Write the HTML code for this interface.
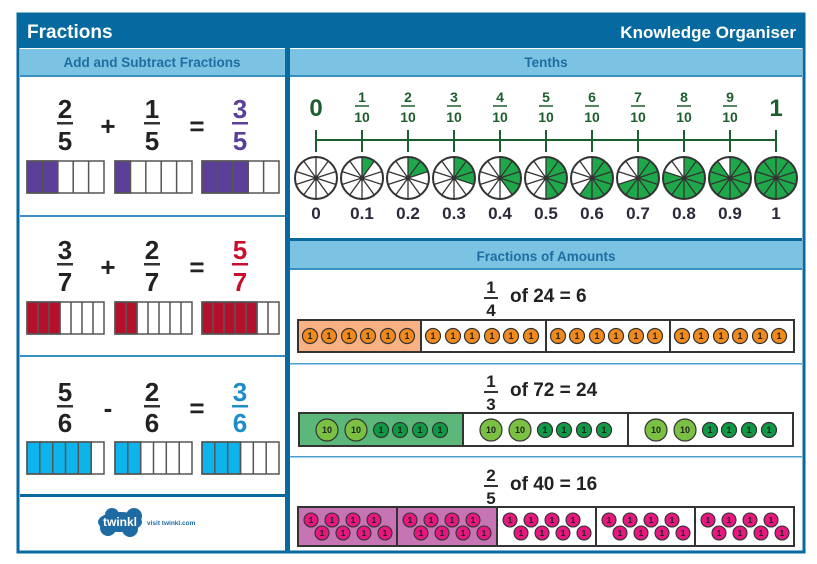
<!DOCTYPE html>
<html><head><meta charset="utf-8"><style>
html,body{margin:0;padding:0;background:#fff;width:817px;height:564px;overflow:hidden}
text{font-family:"Liberation Sans",sans-serif;font-weight:bold}
</style></head><body>
<svg width="817" height="564" viewBox="0 0 817 564" xmlns="http://www.w3.org/2000/svg">
<defs>
<g id="sp" stroke="#333" stroke-width="1.3" fill="none">
<circle r="21" stroke-width="2"/>
<line x1="0" y1="-21" x2="0" y2="21"/>
<line x1="12.3" y1="-17" x2="-12.3" y2="17"/>
<line x1="20" y1="-6.5" x2="-20" y2="6.5"/>
<line x1="20" y1="6.5" x2="-20" y2="-6.5"/>
<line x1="12.3" y1="17" x2="-12.3" y2="-17"/>
<circle r="2" fill="#333"/>
</g>
</defs>
<rect x="0" y="0" width="817" height="564" fill="#fff"/>
<!-- frame -->
<rect x="18" y="14" width="786" height="538" fill="#fff" stroke="#066aa0" stroke-width="3"/>
<rect x="18" y="14" width="786" height="34" fill="#066aa0"/>
<text x="27" y="38" font-size="19" fill="#fff">Fractions</text>
<text x="796" y="38" font-size="17" fill="#fff" text-anchor="end">Knowledge Organiser</text>
<!-- column divider -->
<rect x="285" y="48" width="5" height="504" fill="#066aa0"/>
<!-- left header -->
<rect x="20" y="49" width="265" height="27" fill="#7cc3e3"/>
<rect x="20" y="75" width="265" height="2" fill="#3a8fc2"/>
<text x="152" y="67" font-size="13.5" fill="#1e6ea3" text-anchor="middle">Add and Subtract Fractions</text>
<!-- right header Tenths -->
<rect x="290" y="49" width="512" height="27" fill="#7cc3e3"/>
<rect x="290" y="75" width="512" height="2" fill="#3a8fc2"/>
<text x="546" y="67" font-size="13.5" fill="#1e6ea3" text-anchor="middle">Tenths</text>
<!-- row separators left -->
<rect x="20" y="215" width="265" height="2" fill="#3a8fc2"/>
<rect x="20" y="355" width="265" height="2" fill="#3a8fc2"/>
<rect x="20" y="494" width="265" height="3" fill="#066aa0"/>

<!-- Row 1 -->
<g font-size="26" text-anchor="middle" fill="#222">
<text x="65" y="118">2</text><rect x="57" y="122" width="16" height="2.5" fill="#333"/><text x="65" y="150">5</text>
<text x="108" y="135">+</text>
<text x="152" y="118">1</text><rect x="144" y="122" width="16" height="2.5" fill="#333"/><text x="152" y="150">5</text>
<text x="197" y="135">=</text>
<text x="240" y="118" fill="#5b3f99">3</text><rect x="232" y="122" width="16" height="2.5" fill="#5b3f99"/><text x="240" y="150" fill="#5b3f99">5</text>
</g>
<g stroke="#555" stroke-width="1.5">
<rect x="27" y="161" width="30.8" height="32" fill="#5b3f99"/>
<rect x="115" y="161" width="15.4" height="32" fill="#5b3f99"/>
<rect x="202" y="161" width="46.2" height="32" fill="#5b3f99"/>
<g fill="none">
<rect x="27" y="161" width="77" height="32"/><rect x="115" y="161" width="77" height="32"/><rect x="202" y="161" width="77" height="32"/>
<path d="M42.4 161V193M57.8 161V193M73.2 161V193M88.6 161V193M130.4 161V193M145.8 161V193M161.2 161V193M176.6 161V193M217.4 161V193M232.8 161V193M248.2 161V193M263.6 161V193"/>
</g></g>

<!-- Row 2 -->
<g font-size="26" text-anchor="middle" fill="#222">
<text x="65" y="259">3</text><rect x="57" y="263" width="16" height="2.5" fill="#333"/><text x="65" y="291">7</text>
<text x="108" y="276">+</text>
<text x="152" y="259">2</text><rect x="144" y="263" width="16" height="2.5" fill="#333"/><text x="152" y="291">7</text>
<text x="197" y="276">=</text>
<text x="240" y="259" fill="#c8102e">5</text><rect x="232" y="263" width="16" height="2.5" fill="#c8102e"/><text x="240" y="291" fill="#c8102e">7</text>
</g>
<g stroke="#555" stroke-width="1.5">
<rect x="27" y="302" width="33" height="32" fill="#b5102b"/>
<rect x="115" y="302" width="22" height="32" fill="#b5102b"/>
<rect x="202" y="302" width="55" height="32" fill="#b5102b"/>
<g fill="none">
<rect x="27" y="302" width="77" height="32"/><rect x="115" y="302" width="77" height="32"/><rect x="202" y="302" width="77" height="32"/>
<path d="M38 302V334M49 302V334M60 302V334M71 302V334M82 302V334M93 302V334M126 302V334M137 302V334M148 302V334M159 302V334M170 302V334M181 302V334M213 302V334M224 302V334M235 302V334M246 302V334M257 302V334M268 302V334"/>
</g></g>

<!-- Row 3 -->
<g font-size="26" text-anchor="middle" fill="#222">
<text x="65" y="401">5</text><rect x="57" y="405" width="16" height="2.5" fill="#333"/><text x="65" y="432">6</text>
<text x="108" y="417">-</text>
<text x="152" y="401">2</text><rect x="144" y="405" width="16" height="2.5" fill="#333"/><text x="152" y="432">6</text>
<text x="197" y="417">=</text>
<text x="240" y="401" fill="#1e8cc8">3</text><rect x="232" y="405" width="16" height="2.5" fill="#1e8cc8"/><text x="240" y="432" fill="#1e8cc8">6</text>
</g>
<g stroke="#555" stroke-width="1.5">
<rect x="27" y="442" width="64.2" height="32" fill="#0db4ec"/>
<rect x="115" y="442" width="25.7" height="32" fill="#0db4ec"/>
<rect x="202" y="442" width="38.5" height="32" fill="#0db4ec"/>
<g fill="none">
<rect x="27" y="442" width="77" height="32"/><rect x="115" y="442" width="77" height="32"/><rect x="202" y="442" width="77" height="32"/>
<path d="M39.8 442V474M52.7 442V474M65.5 442V474M78.3 442V474M91.2 442V474M127.8 442V474M140.7 442V474M153.5 442V474M166.3 442V474M179.2 442V474M214.8 442V474M227.7 442V474M240.5 442V474M253.3 442V474M266.2 442V474"/>
</g></g>

<!-- twinkl logo -->
<g fill="#1e6aa3">
<ellipse cx="120" cy="522" rx="22" ry="10"/>
<circle cx="108" cy="528" r="8"/><circle cx="130" cy="529" r="8"/><circle cx="134" cy="516" r="8"/><circle cx="112" cy="515" r="7"/>
</g>
<text x="120" y="526" font-size="12" fill="#fff" text-anchor="middle">twinkl</text>
<text x="147" y="525" font-size="6.5" fill="#1e6aa3">visit twinkl.com</text>

<!-- Tenths number line -->
<g fill="#1c5e2d" text-anchor="middle">
<text x="316" y="116" font-size="24">0</text>
<text x="776" y="116" font-size="24">1</text>
<g font-size="14">
<text x="362" y="102">1</text><text x="362" y="122">10</text>
<text x="408" y="102">2</text><text x="408" y="122">10</text>
<text x="454" y="102">3</text><text x="454" y="122">10</text>
<text x="500" y="102">4</text><text x="500" y="122">10</text>
<text x="546" y="102">5</text><text x="546" y="122">10</text>
<text x="592" y="102">6</text><text x="592" y="122">10</text>
<text x="638" y="102">7</text><text x="638" y="122">10</text>
<text x="684" y="102">8</text><text x="684" y="122">10</text>
<text x="730" y="102">9</text><text x="730" y="122">10</text>
</g>
</g>
<g stroke="#1c5e2d" stroke-width="1.6">
<path d="M355 106H369M401 106H415M447 106H461M493 106H507M539 106H553M585 106H599M631 106H645M677 106H691M723 106H737"/>
<path d="M316 140H776" stroke-width="2"/>
<path d="M316 130V152M362 130V152M408 130V152M454 130V152M500 130V152M546 130V152M592 130V152M638 130V152M684 130V152M730 130V152M776 130V152" stroke-width="2"/>
</g>
<!-- pies -->
<g fill="#1fa84a">
<circle cx="316" cy="178" r="21" fill="#fff"/>
<circle cx="362" cy="178" r="21" fill="#fff"/><path d="M362 178V157A21 21 0 0 1 374.3 161Z"/>
<circle cx="408" cy="178" r="21" fill="#fff"/><path d="M408 178V157A21 21 0 0 1 428 171.5Z"/>
<circle cx="454" cy="178" r="21" fill="#fff"/><path d="M454 178V157A21 21 0 0 1 474 184.5Z"/>
<circle cx="500" cy="178" r="21" fill="#fff"/><path d="M500 178V157A21 21 0 0 1 512.3 195Z"/>
<circle cx="546" cy="178" r="21" fill="#fff"/><path d="M546 178V157A21 21 0 0 1 546 199Z"/>
<circle cx="592" cy="178" r="21" fill="#fff"/><path d="M592 178V157A21 21 0 1 1 579.7 195Z"/>
<circle cx="638" cy="178" r="21" fill="#fff"/><path d="M638 178V157A21 21 0 1 1 618 184.5Z"/>
<circle cx="684" cy="178" r="21" fill="#fff"/><path d="M684 178V157A21 21 0 1 1 664 171.5Z"/>
<circle cx="730" cy="178" r="21" fill="#fff"/><path d="M730 178V157A21 21 0 1 1 717.7 161Z"/>
<circle cx="776" cy="178" r="21"/>
</g>
<use href="#sp" x="316" y="178"/><use href="#sp" x="362" y="178"/><use href="#sp" x="408" y="178"/><use href="#sp" x="454" y="178"/><use href="#sp" x="500" y="178"/><use href="#sp" x="546" y="178"/><use href="#sp" x="592" y="178"/><use href="#sp" x="638" y="178"/><use href="#sp" x="684" y="178"/><use href="#sp" x="730" y="178"/><use href="#sp" x="776" y="178"/>
<g font-size="17" fill="#2a2a3a" text-anchor="middle">
<text x="316" y="219">0</text><text x="362" y="219">0.1</text><text x="408" y="219">0.2</text><text x="454" y="219">0.3</text><text x="500" y="219">0.4</text><text x="546" y="219">0.5</text><text x="592" y="219">0.6</text><text x="638" y="219">0.7</text><text x="684" y="219">0.8</text><text x="730" y="219">0.9</text><text x="776" y="219">1</text>
</g>

<!-- Fractions of Amounts header -->
<rect x="290" y="238" width="512" height="3" fill="#066aa0"/>
<rect x="290" y="241" width="512" height="28" fill="#7cc3e3"/>
<rect x="290" y="268" width="512" height="2" fill="#3a8fc2"/>
<text x="546" y="261" font-size="13.5" fill="#1e6ea3" text-anchor="middle">Fractions of Amounts</text>
<rect x="290" y="363" width="512" height="1.5" fill="#4a9fd0"/>
<rect x="290" y="456" width="512" height="1.5" fill="#4a9fd0"/>

<!-- equation headings -->
<g font-size="19" fill="#222">
<g text-anchor="middle" font-size="17"><text x="491" y="293">1</text><text x="491" y="316">4</text>
<text x="491" y="387">1</text><text x="491" y="410">3</text>
<text x="491" y="481">2</text><text x="491" y="504">5</text></g>
<rect x="484" y="297" width="14" height="2" fill="#333"/>
<rect x="484" y="391" width="14" height="2" fill="#333"/>
<rect x="484" y="485" width="14" height="2" fill="#333"/>
<text x="510" y="302">of  24 = 6</text>
<text x="510" y="396">of  72 = 24</text>
<text x="510" y="490">of  40 = 16</text>
</g>

<!-- Bar 1 (quarters) -->
<rect x="298" y="320" width="123" height="32" fill="#f7b183"/>
<g fill="none" stroke="#333" stroke-width="2"><rect x="298" y="320" width="496" height="32"/><path d="M421 320V352M546 320V352M670 320V352"/></g>
<g fill="#f08a1c" stroke="#333" stroke-width="1.2">
<circle cx="310" cy="336" r="7.5"/><circle cx="329" cy="336" r="7.5"/><circle cx="349" cy="336" r="7.5"/><circle cx="368" cy="336" r="7.5"/><circle cx="388" cy="336" r="7.5"/><circle cx="407" cy="336" r="7.5"/>
<circle cx="433" cy="336" r="7.5"/><circle cx="453" cy="336" r="7.5"/><circle cx="472" cy="336" r="7.5"/><circle cx="492" cy="336" r="7.5"/><circle cx="511" cy="336" r="7.5"/><circle cx="531" cy="336" r="7.5"/>
<circle cx="558" cy="336" r="7.5"/><circle cx="577" cy="336" r="7.5"/><circle cx="597" cy="336" r="7.5"/><circle cx="616" cy="336" r="7.5"/><circle cx="636" cy="336" r="7.5"/><circle cx="655" cy="336" r="7.5"/>
<circle cx="682" cy="336" r="7.5"/><circle cx="701" cy="336" r="7.5"/><circle cx="721" cy="336" r="7.5"/><circle cx="740" cy="336" r="7.5"/><circle cx="760" cy="336" r="7.5"/><circle cx="779" cy="336" r="7.5"/>
</g>
<g font-size="9" fill="#222" text-anchor="middle">
<text x="310" y="339">1</text><text x="329" y="339">1</text><text x="349" y="339">1</text><text x="368" y="339">1</text><text x="388" y="339">1</text><text x="407" y="339">1</text>
<text x="433" y="339">1</text><text x="453" y="339">1</text><text x="472" y="339">1</text><text x="492" y="339">1</text><text x="511" y="339">1</text><text x="531" y="339">1</text>
<text x="558" y="339">1</text><text x="577" y="339">1</text><text x="597" y="339">1</text><text x="616" y="339">1</text><text x="636" y="339">1</text><text x="655" y="339">1</text>
<text x="682" y="339">1</text><text x="701" y="339">1</text><text x="721" y="339">1</text><text x="740" y="339">1</text><text x="760" y="339">1</text><text x="779" y="339">1</text>
</g>

<!-- Bar 2 (thirds) -->
<rect x="299" y="413" width="164" height="33" fill="#5cb87a"/>
<g fill="none" stroke="#333" stroke-width="2"><rect x="299" y="413" width="494" height="33"/><path d="M463 413V446M628 413V446"/></g>
<g stroke="#333" stroke-width="1.2">
<g fill="#7ac143"><circle cx="327" cy="430" r="11"/><circle cx="356" cy="430" r="11"/><circle cx="491" cy="430" r="11"/><circle cx="520" cy="430" r="11"/><circle cx="656" cy="430" r="11"/><circle cx="685" cy="430" r="11"/></g>
<g fill="#109a45"><circle cx="381" cy="430" r="7.5"/><circle cx="400" cy="430" r="7.5"/><circle cx="420" cy="430" r="7.5"/><circle cx="440" cy="430" r="7.5"/>
<circle cx="545" cy="430" r="7.5"/><circle cx="564" cy="430" r="7.5"/><circle cx="584" cy="430" r="7.5"/><circle cx="604" cy="430" r="7.5"/>
<circle cx="710" cy="430" r="7.5"/><circle cx="729" cy="430" r="7.5"/><circle cx="749" cy="430" r="7.5"/><circle cx="769" cy="430" r="7.5"/></g>
</g>
<g font-size="9" fill="#222" text-anchor="middle">
<text x="327" y="433">10</text><text x="356" y="433">10</text><text x="491" y="433">10</text><text x="520" y="433">10</text><text x="656" y="433">10</text><text x="685" y="433">10</text>
<text x="381" y="433">1</text><text x="400" y="433">1</text><text x="420" y="433">1</text><text x="440" y="433">1</text>
<text x="545" y="433">1</text><text x="564" y="433">1</text><text x="584" y="433">1</text><text x="604" y="433">1</text>
<text x="710" y="433">1</text><text x="729" y="433">1</text><text x="749" y="433">1</text><text x="769" y="433">1</text>
</g>

<!-- Bar 3 (fifths) -->
<rect x="298" y="507" width="199" height="39" fill="#c774b5"/>
<g fill="none" stroke="#333" stroke-width="2"><rect x="298" y="507" width="496" height="39"/><path d="M397 507V546M497 507V546M596 507V546M695 507V546"/></g>
<g fill="#e6177e" stroke="#333" stroke-width="1.1">
<circle cx="311" cy="520" r="7"/><circle cx="332" cy="520" r="7"/><circle cx="353" cy="520" r="7"/><circle cx="374" cy="520" r="7"/><circle cx="322" cy="533" r="7"/><circle cx="343" cy="533" r="7"/><circle cx="364" cy="533" r="7"/><circle cx="385" cy="533" r="7"/>
<circle cx="410" cy="520" r="7"/><circle cx="431" cy="520" r="7"/><circle cx="452" cy="520" r="7"/><circle cx="473" cy="520" r="7"/><circle cx="421" cy="533" r="7"/><circle cx="442" cy="533" r="7"/><circle cx="463" cy="533" r="7"/><circle cx="484" cy="533" r="7"/>
<circle cx="510" cy="520" r="7"/><circle cx="531" cy="520" r="7"/><circle cx="552" cy="520" r="7"/><circle cx="573" cy="520" r="7"/><circle cx="521" cy="533" r="7"/><circle cx="542" cy="533" r="7"/><circle cx="563" cy="533" r="7"/><circle cx="584" cy="533" r="7"/>
<circle cx="609" cy="520" r="7"/><circle cx="630" cy="520" r="7"/><circle cx="651" cy="520" r="7"/><circle cx="672" cy="520" r="7"/><circle cx="620" cy="533" r="7"/><circle cx="641" cy="533" r="7"/><circle cx="662" cy="533" r="7"/><circle cx="683" cy="533" r="7"/>
<circle cx="708" cy="520" r="7"/><circle cx="729" cy="520" r="7"/><circle cx="750" cy="520" r="7"/><circle cx="771" cy="520" r="7"/><circle cx="719" cy="533" r="7"/><circle cx="740" cy="533" r="7"/><circle cx="761" cy="533" r="7"/><circle cx="782" cy="533" r="7"/>
</g>
<g font-size="8.5" fill="#222" text-anchor="middle">
<text x="311" y="523">1</text><text x="332" y="523">1</text><text x="353" y="523">1</text><text x="374" y="523">1</text><text x="322" y="536">1</text><text x="343" y="536">1</text><text x="364" y="536">1</text><text x="385" y="536">1</text>
<text x="410" y="523">1</text><text x="431" y="523">1</text><text x="452" y="523">1</text><text x="473" y="523">1</text><text x="421" y="536">1</text><text x="442" y="536">1</text><text x="463" y="536">1</text><text x="484" y="536">1</text>
<text x="510" y="523">1</text><text x="531" y="523">1</text><text x="552" y="523">1</text><text x="573" y="523">1</text><text x="521" y="536">1</text><text x="542" y="536">1</text><text x="563" y="536">1</text><text x="584" y="536">1</text>
<text x="609" y="523">1</text><text x="630" y="523">1</text><text x="651" y="523">1</text><text x="672" y="523">1</text><text x="620" y="536">1</text><text x="641" y="536">1</text><text x="662" y="536">1</text><text x="683" y="536">1</text>
<text x="708" y="523">1</text><text x="729" y="523">1</text><text x="750" y="523">1</text><text x="771" y="523">1</text><text x="719" y="536">1</text><text x="740" y="536">1</text><text x="761" y="536">1</text><text x="782" y="536">1</text>
</g>
</svg>
</body></html>
